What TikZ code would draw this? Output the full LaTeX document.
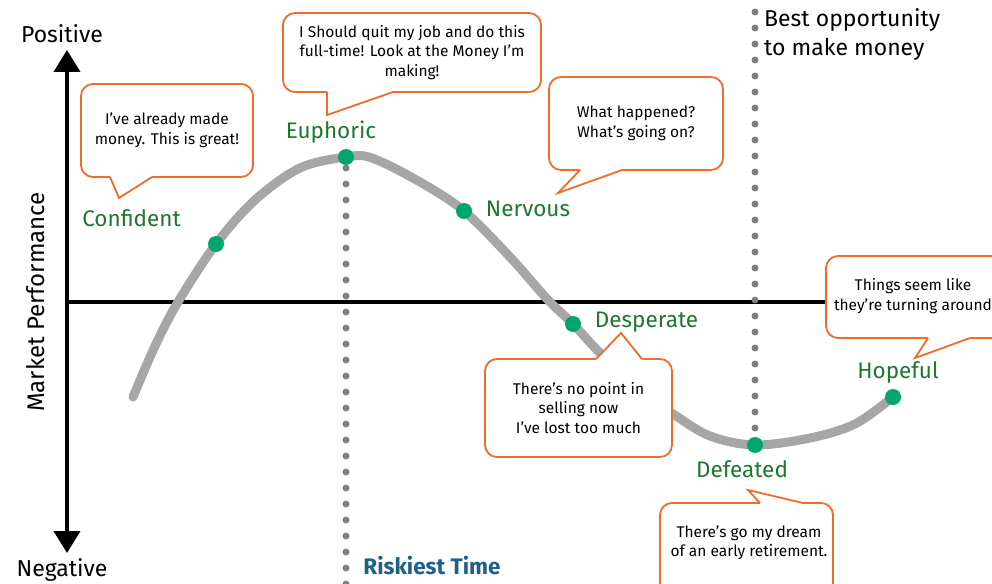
\documentclass[tikz,border=0pt]{standalone}
\usepackage{fontspec}
\setmainfont{Fira Sans}
\usetikzlibrary{arrows.meta}
\definecolor{lblgreen}{RGB}{30,118,48}
\definecolor{dotgreen}{RGB}{0,166,110}
\definecolor{callorange}{RGB}{240,108,40}
\definecolor{curvegray}{RGB}{166,166,166}
\definecolor{dotgray}{RGB}{128,128,128}
\definecolor{riskblue}{RGB}{30,96,136}
% #1 tail left x, #2 tail right x, #3 edge y, #4 inner y, #5 tip x, #6 tip y
\newcommand{\calltail}[6]{%
  \fill[white] (#1,#4) -- (#1,#3) -- (#5,#6) -- (#2,#3) -- (#2,#4) -- cycle;
  \draw[tailline] (#1,#3) -- (#5,#6) -- (#2,#3);}
\begin{document}
\begin{tikzpicture}[x=1pt,y=-1pt,
  axisline/.style={line width=4pt, black},
  curveline/.style={line width=9pt, curvegray, line cap=round},
  dotline/.style={line width=7pt, dotgray, line cap=round, dash pattern=on 0pt off 16pt},
  gdot/.style={circle, fill=dotgreen, minimum size=16pt, inner sep=0pt},
  stage/.style={font=\fontsize{22.5}{26}\selectfont, text=lblgreen, anchor=base, inner sep=0pt},
  axislabel/.style={font=\fontsize{23}{26}\selectfont, text=black, anchor=base, inner sep=0pt},
  callbox/.style={draw=callorange, line width=1.8pt, fill=white, rounded corners=12pt,
    align=center, font=\fontsize{15.5}{19.5}\selectfont, inner sep=0pt},
  calltext/.style={align=center, font=\fontsize{15.5}{19.5}\selectfont, inner sep=0pt},
  tailline/.style={draw=callorange, line width=1.8pt, line join=miter}]
\useasboundingbox (0,0) rectangle (992,583);
\fill[white] (0,0) rectangle (992,583);

% axes
\coordinate (ytop) at (67,50);
\coordinate (ybot) at (67,553);
\coordinate (xleft) at (67,302);
\coordinate (xright) at (992,302);
\draw[axisline, {Triangle[length=22pt,width=26pt]}-{Triangle[length=22pt,width=26pt]}] (ytop) -- (ybot);
\draw[axisline] (xleft) -- (xright);

% curve
\draw[curveline] plot[smooth, tension=0.55] coordinates {
 (133,397) (155,346) (178,302) (216,244) (255,200) (300,168) (346,157) (372,158)
 (420,182) (464,211) (510,257) (548,300) (573,324) (600,353) (640,391) (673,414)
 (710,436) (755,445) (810,438) (855,424) (893,397)};

% dotted vertical lines
\coordinate (r1) at (346,168);
\coordinate (r2) at (346,590);
\coordinate (b1) at (755,12);
\coordinate (b2) at (755,440);
\draw[dotline] (r1) -- (r2);
\draw[dotline] (b1) -- (b2);

% stage dots
\node[gdot] (dconf) at (216,244) {};
\node[gdot] (deuph) at (346,157) {};
\node[gdot] (dnerv) at (464,211) {};
\node[gdot] (ddesp) at (573,324) {};
\node[gdot] (ddefe) at (755,445) {};
\node[gdot] (dhope) at (893,397) {};

% stage labels
\node[stage] (lconf) at (131.5,226) {Confident};
\node[stage] (leuph) at (331,139) {Euphoric};
\node[stage] (lnerv) at (528,216) {Nervous};
\node[stage] (ldesp) at (646.5,327) {Desperate};
\node[stage] (ldefe) at (742,477) {Defeated};
\node[stage] (lhope) at (898,378) {Hopeful};

% axis labels
\node[axislabel] (lpos) at (62,43) {Positive};
\node[axislabel] (lneg) at (62,576) {Negative};
\node[axislabel, rotate=90, font=\fontsize{24}{26}\selectfont] (lmp) at (44,302) {Market Performance};
\node[axislabel, font=\fontsize{22.5}{26}\selectfont\bfseries, text=riskblue] (lrisk) at (432,574) {Riskiest Time};
\node[axislabel, anchor=base west, align=left] (lbest1) at (764,27) {Best opportunity};
\node[axislabel, anchor=base west, align=left] (lbest2) at (764,56) {to make money};

% callouts
\node[callbox, minimum width=172pt, minimum height=93pt] (c1) at (167,130.5) {I’ve already made\\money. This is great!};
\calltail{110}{152}{177}{174}{119}{198}

\node[callbox, minimum width=258pt, minimum height=79pt] (c2) at (412,52.5) {I Should quit my job and do this\\full-time! Look at the Money I’m\\making!};
\calltail{327}{393}{92}{89}{327}{115}

\node[callbox, minimum width=174pt, minimum height=93pt] (c3) at (636,123.5) {What happened?\\What’s going on?};
\calltail{580}{622}{170}{167}{558}{193}

\node[callbox, minimum width=187pt, minimum height=98pt] (c4) at (578.5,408) {There’s no point in\\selling now\\I’ve lost too much};
\calltail{596}{642}{359}{362}{621}{333}

\node[callbox, minimum width=173pt, minimum height=97pt] (c5) at (746.5,551.5) {};
\node[calltext] (t5) at (749,543) {There’s go my dream\\of an early retirement.};
\calltail{760}{803}{503}{506}{748}{490}

\node[callbox, minimum width=186pt, minimum height=82pt] (c6) at (919,297) {};
\node[calltext] (t6) at (913,296) {Things seem like\\they’re turning around};
\calltail{928}{970}{338}{335}{915}{358}
\end{tikzpicture}
\end{document}
